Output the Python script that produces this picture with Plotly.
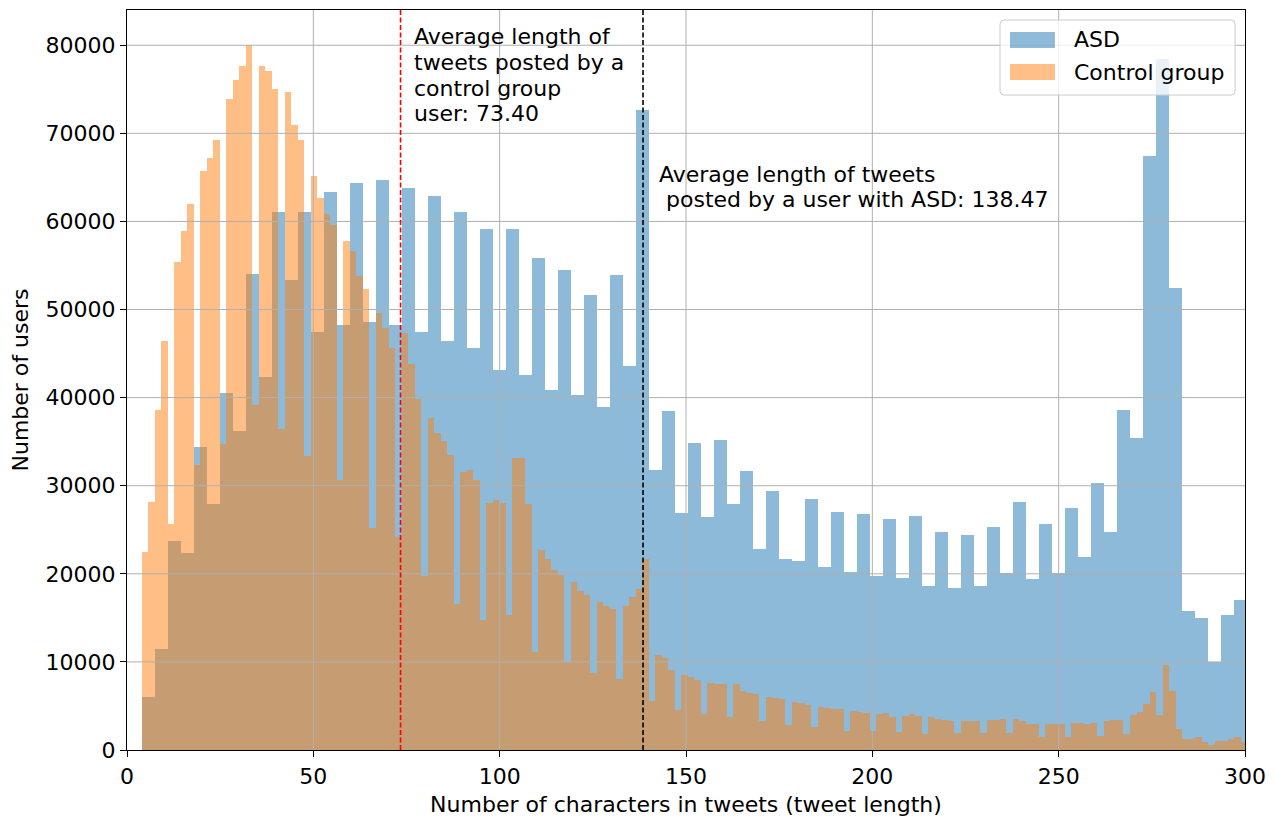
import plotly.graph_objects as go

# ---------------- data ----------------
HIST_RANGE = (3.9, 352.9)        # histogram range used for both groups
ASD_BINS = 100
CONTROL_BINS = 200

ASD_COUNTS = [
    6070, 11460, 23700, 22400, 34400, 27900, 40500, 36200, 54000, 42300,
    61100, 53300, 61100, 47400, 63300, 48200, 64400, 48600, 64700, 48200,
    63800, 47500, 62900, 46400, 61100, 45600, 59100, 43100, 59100, 42600,
    55900, 40900, 54500, 40300, 51600, 38900, 53900, 43600, 72600, 31800,
    38500, 26900, 34900, 26500, 35200, 27900, 31700, 22800, 29400, 21700,
    21500, 28500, 20800, 27000, 20200, 26800, 19700, 26250, 19500, 26600,
    18600, 24800, 18400, 24400, 18600, 25300, 20100, 28200, 19400, 25700,
    20100, 27500, 21900, 30300, 24700, 38600, 35400, 67400, 78400, 52500,
    15800, 15000, 10000, 15300, 17000,
]

CONTROL_COUNTS = [
    22500, 28200, 38600, 46400, 25700, 55400, 58900, 62000, 32300, 65700,
    67200, 69300, 34700, 73900, 76100, 77700, 80000, 39200, 77700, 77100,
    75000, 36400, 74700, 71000, 69200, 33400, 65200, 62700, 60900, 59600,
    30700, 57800, 56600, 53800, 52300, 25200, 49600, 47900, 45600, 24200,
    47300, 43800, 39900, 19700, 37700, 36000, 35100, 33500, 16600, 31600,
    31800, 30600, 14800, 28000, 28400, 28000, 15300, 33100, 33100, 27900,
    11100, 22700, 21700, 20400, 19900, 10000, 19100, 18100, 17600, 8700,
    16800, 16400, 16000, 8100, 16300, 17400, 18300, 21700, 5600, 10800,
    10400, 9100, 4500, 8500, 8300, 8000, 4050, 7650, 7500, 7500,
    3700, 7500, 6700, 6500, 6400, 3300, 6000, 5900, 5800, 2800,
    5500, 5300, 5100, 2600, 4900, 4800, 4700, 4650, 2200, 4400,
    4300, 4200, 2200, 4050, 4200, 3800, 2100, 3900, 4050, 3900,
    1800, 3700, 3500, 3400, 3300, 1900, 3300, 3300, 3300, 1900,
    3400, 3400, 3500, 1900, 3500, 3300, 3000, 2950, 1500, 2950,
    2950, 2950, 1500, 3100, 3050, 2950, 3100, 1600, 3300, 3400,
    3400, 1800, 4000, 4350, 5200, 6550, 4000, 9600, 6700, 2350,
    1250, 1250, 1450, 950, 570, 1060, 1060, 1250, 1450, 870,
]

ASD_MEAN = 138.47
CONTROL_MEAN = 73.40

X_TICKS = [0, 50, 100, 150, 200, 250, 300]
Y_TICKS = [0, 10000, 20000, 30000, 40000, 50000, 60000, 70000, 80000]
X_RANGE = [0, 300]
Y_RANGE = [0, 84000]

SERIES_NAMES = ["ASD", "Control group"]
COLORS = ["#1f77b4", "#ff7f0e"]
FONT = "DejaVu Sans"
FS = 22

CONTROL_NOTE = ["Average length of", "tweets posted by a", "control group",
                f"user: {CONTROL_MEAN:.2f}"]
ASD_NOTE = ["Average length of tweets",
            f"\u00a0posted by a user with ASD: {ASD_MEAN:.2f}"]

PLOT_W, PLOT_H = 1118, 740         # plot-area size in px
LINE_STEP = 25.7 / PLOT_H * (Y_RANGE[1] - Y_RANGE[0])   # text line spacing (data units)

# legend box geometry (paper coordinates)
LEG_X0, LEG_X1, LEG_Y0, LEG_Y1 = 0.7809, 0.9911, 0.8851, 0.9865
LEG_PATCH_X0, LEG_PATCH_X1 = 0.7898, 0.8300
LEG_PATCH_H = 16 / PLOT_H
LEG_ROW_Y = [0.9595, 0.9162]
LEG_TEXT_X = 0.8453


def bin_centres(counts, nbins):
    lo, hi = HIST_RANGE
    w = (hi - lo) / nbins
    return [lo + (i + 0.5) * w for i in range(len(counts))], w


fig = go.Figure()
for counts, nbins, name, color in [
    (ASD_COUNTS, ASD_BINS, SERIES_NAMES[0], COLORS[0]),
    (CONTROL_COUNTS, CONTROL_BINS, SERIES_NAMES[1], COLORS[1]),
]:
    xc, w = bin_centres(counts, nbins)
    fig.add_trace(go.Bar(
        x=xc, y=counts, width=w, name=name,
        marker=dict(color=color, line=dict(width=0)),
        opacity=0.5, showlegend=False,
    ))

# grid lines drawn above the bars (as matplotlib does)
for xt in X_TICKS[1:-1]:
    fig.add_shape(type="line", xref="x", yref="paper", x0=xt, x1=xt, y0=0, y1=1,
                  line=dict(color="#b0b0b0", width=1), layer="above")
for yt in Y_TICKS[1:]:
    fig.add_shape(type="line", xref="paper", yref="y", x0=0, x1=1, y0=yt, y1=yt,
                  line=dict(color="#b0b0b0", width=1), layer="above")

# mean lines
fig.add_shape(type="line", xref="x", yref="paper", x0=CONTROL_MEAN, x1=CONTROL_MEAN,
              y0=0, y1=1, line=dict(color="red", width=1.6, dash="5px,2.5px"), layer="above")
fig.add_shape(type="line", xref="x", yref="paper", x0=ASD_MEAN, x1=ASD_MEAN,
              y0=0, y1=1, line=dict(color="black", width=1.6, dash="5px,2.5px"), layer="above")

for i, line in enumerate(CONTROL_NOTE):
    fig.add_annotation(
        x=CONTROL_MEAN + 3.1, y=82600 - i * LINE_STEP, xref="x", yref="y",
        text=line, showarrow=False, xanchor="left", yanchor="top", align="left",
        font=dict(family=FONT, size=FS, color="black"),
    )
for i, line in enumerate(ASD_NOTE):
    fig.add_annotation(
        x=ASD_MEAN + 3.8, y=67000 - i * LINE_STEP, xref="x", yref="y",
        text=line, showarrow=False, xanchor="left", yanchor="top", align="left",
        font=dict(family=FONT, size=FS, color="black"),
    )

# matplotlib-style legend (rounded frame, wide colour patches)
rx, ry = 4 / PLOT_W, 4 / PLOT_H
x0, x1, y0, y1 = LEG_X0, LEG_X1, LEG_Y0, LEG_Y1
frame = (f"M{x0+rx},{y1} L{x1-rx},{y1} Q{x1},{y1} {x1},{y1-ry} "
         f"L{x1},{y0+ry} Q{x1},{y0} {x1-rx},{y0} L{x0+rx},{y0} "
         f"Q{x0},{y0} {x0},{y0+ry} L{x0},{y1-ry} Q{x0},{y1} {x0+rx},{y1} Z")
fig.add_shape(type="path", path=frame, xref="paper", yref="paper",
              fillcolor="rgba(255,255,255,0.8)", line=dict(color="#cccccc", width=1),
              layer="above")
for name, color, yc in zip(SERIES_NAMES, COLORS, LEG_ROW_Y):
    fig.add_shape(type="rect", xref="paper", yref="paper",
                  x0=LEG_PATCH_X0, x1=LEG_PATCH_X1,
                  y0=yc - LEG_PATCH_H / 2, y1=yc + LEG_PATCH_H / 2,
                  fillcolor=color, opacity=0.5, line=dict(width=0), layer="above")
    fig.add_annotation(x=LEG_TEXT_X, y=yc, xref="paper", yref="paper", text=name,
                       showarrow=False, xanchor="left", yanchor="middle",
                       font=dict(family=FONT, size=FS, color="black"))

fig.update_layout(
    width=1275, height=818,
    margin=dict(l=119, r=38, t=2, b=76),
    barmode="overlay", bargap=0, showlegend=False,
    plot_bgcolor="white", paper_bgcolor="white",
    font=dict(family=FONT, size=FS, color="black"),
)
fig.update_xaxes(
    range=X_RANGE, tickvals=X_TICKS, ticks="outside", ticklen=6, tickcolor="black",
    showline=True, linecolor="black", linewidth=1.2, mirror=True,
    showgrid=False, zeroline=False, tickfont=dict(family=FONT, size=FS),
    title=dict(text="Number of characters in tweets (tweet length)", standoff=9,
               font=dict(family=FONT, size=FS)),
)
fig.update_yaxes(
    range=Y_RANGE, tickvals=Y_TICKS, tickformat="d", ticks="outside", ticklen=6,
    tickcolor="black", showline=True, linecolor="black", linewidth=1.2, mirror=True,
    showgrid=False, zeroline=False, tickfont=dict(family=FONT, size=FS),
    title=dict(text="Number of users", standoff=11, font=dict(family=FONT, size=FS)),
)

fig.write_html("out.html")
